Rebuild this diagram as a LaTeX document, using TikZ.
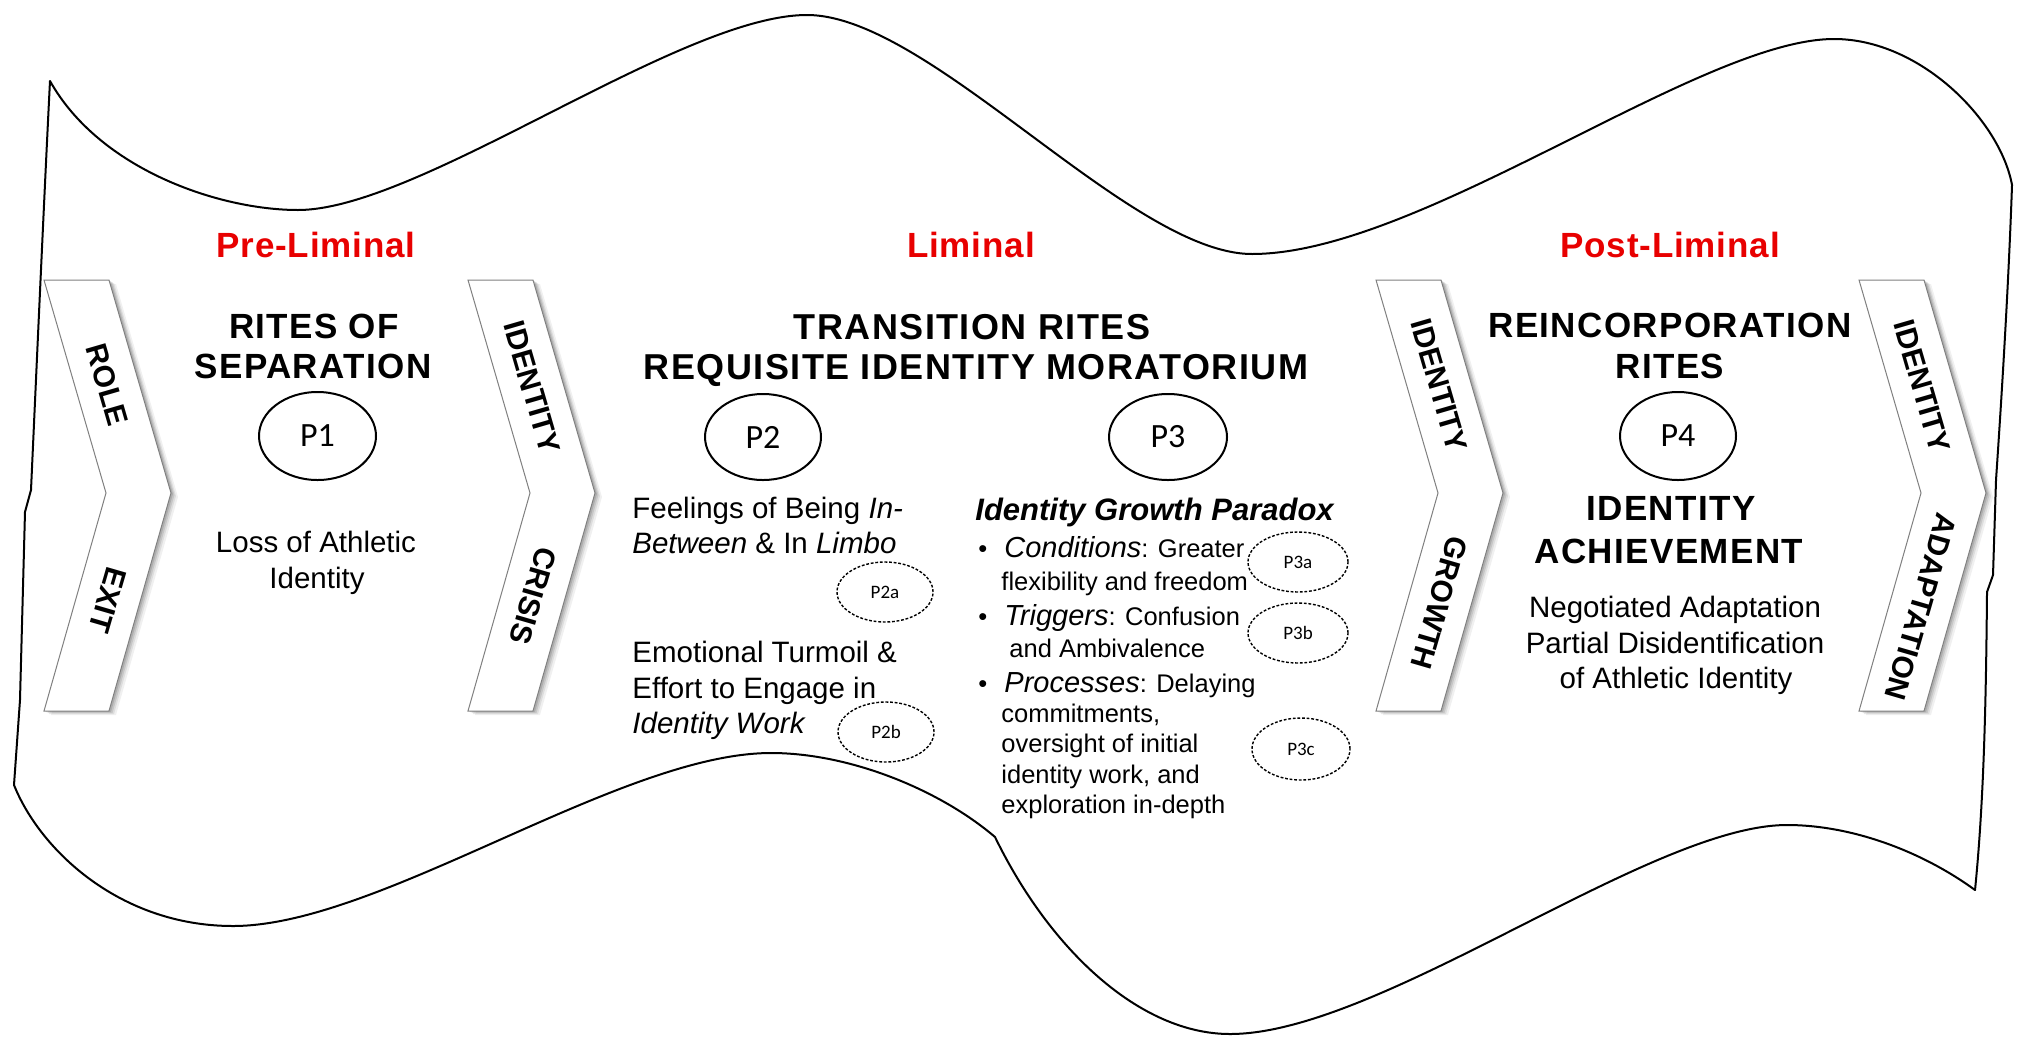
\documentclass[tikz,border=0pt]{standalone}
\usepackage{fontspec}
\setmainfont{Liberation Sans}
\newfontfamily\hdrfont[LetterSpace=4]{Liberation Sans}
\newfontfamily\redfont[LetterSpace=2.5]{Liberation Sans}
\newfontfamily\pfont{Carlito}
\usetikzlibrary{shapes.geometric}
\newlength\px \setlength\px{0.5pt}
\definecolor{redlab}{RGB}{232,0,0}
\definecolor{chevgray}{RGB}{128,128,128}
\newcommand\ith[1]{{\fontsize{14.5}{16}\selectfont\itshape #1}}
\newcommand\bul{\makebox[26\px][l]{•}}
\tikzset{
  redlabel/.style={font=\redfont\bfseries\fontsize{17.5}{20}\selectfont, text=redlab, inner sep=0pt, anchor=base},
  header/.style={font=\hdrfont\bfseries\fontsize{17.5}{20}\selectfont, inner sep=0pt, anchor=base},
  bigheader/.style={font=\hdrfont\bfseries\fontsize{18}{21}\selectfont, inner sep=0pt, anchor=base},
  body/.style={font=\fontsize{14.75}{18}\selectfont, inner sep=0pt, anchor=base},
  bodyleft/.style={font=\fontsize{14.75}{18}\selectfont, inner sep=0pt, anchor=base west},
  smallbody/.style={font=\fontsize{12.75}{16}\selectfont, inner sep=0pt, anchor=base west},
  chevtext/.style={font=\bfseries\fontsize{15}{18}\selectfont, inner sep=0pt},
  bigell/.style={ellipse, draw, line width=1pt, inner sep=0pt, font=\pfont\fontsize{17}{20}\selectfont},
  smallell/.style={ellipse, draw, line width=0.7pt, dash pattern=on 1.4pt off 0.9pt, inner sep=0pt,
     font=\pfont\fontsize{9.5}{11}\selectfont, minimum width=96\px, minimum height=60\px},
  outline/.style={line width=1pt, draw=black, line join=round},
  chevline/.style={draw=chevgray, line width=0.5pt, fill=white},
  chevron/.pic={
    \foreach \dx/\dy/\op in {7/4/0.06, 5/3/0.08, 3.5/2/0.10, 2/1/0.12}{
      \fill[black, opacity=\op] (\dx,280+\dy) -- (65+\dx,280+\dy) -- (127+\dx,493+\dy)
        -- (65+\dx,711+\dy) -- (\dx,711+\dy) -- (62+\dx,493+\dy) -- cycle;
    }
    \path[chevline] (0,280) -- (65,280) -- (127,493) -- (65,711) -- (0,711) -- (62,493) -- cycle;
  }
}
\begin{document}
\begin{tikzpicture}[x=0.5pt, y=-0.5pt]
\useasboundingbox (0,0) rectangle (2032,1050);
\fill[white] (0,0) rectangle (2032,1050);

% wavy outline
\draw[outline] (50,81) .. controls (100,170) and (220,210) .. (298,210)
  .. controls (420,210) and (680,15) .. (807,15)
  .. controls (930,15) and (1130,254) .. (1252,254)
  .. controls (1420,254) and (1700,39) .. (1834,39)
  .. controls (1920,39) and (2000,120) .. (2012,185)
  .. controls (2008,300) and (2000,420) .. (1996,480)
  -- (1993,575) -- (1987,592)
  .. controls (1986,700) and (1984,800) .. (1975,890)
  .. controls (1920,850) and (1850,825) .. (1787,825)
  .. controls (1650,825) and (1380,1034) .. (1230,1034)
  .. controls (1140,1034) and (1050,950) .. (995,837)
  .. controls (940,790) and (850,753) .. (771,753)
  .. controls (620,753) and (380,926) .. (233,926)
  .. controls (120,926) and (40,850) .. (14,785)
  -- (20,700) -- (25,512) -- (31,490)
  .. controls (36,380) and (44,200) .. (50,81) -- cycle;

% chevrons
\pic at (44,0) {chevron};
\pic at (468,0) {chevron};
\pic at (1376,0) {chevron};
\pic at (1859,0) {chevron};

\node[chevtext, rotate=-73.8] (role) at (107,385) {ROLE};
\node[chevtext, rotate=-106.2] (exit) at (108,600) {EXIT};
\node[chevtext, rotate=-73.8] (idcrisis) at (532,387) {IDENTITY};
\node[chevtext, rotate=-106.2] (crisis) at (533,596) {CRISIS};
\node[chevtext, rotate=-73.8] (idgrowth) at (1439,385) {IDENTITY};
\node[chevtext, rotate=-106.2] (growth) at (1439,603) {GROWTH};
\node[chevtext, rotate=-73.8] (idadapt) at (1922,386) {IDENTITY};
\node[chevtext, rotate=-106.2] (adapt) at (1921,607) {ADAPTATION};

% red phase labels
\node[redlabel] (prelim) at (316,257) {Pre-Liminal};
\node[redlabel] (lim) at (971,257) {Liminal};
\node[redlabel] (postlim) at (1670,257) {Post-Liminal};

% headers
\node[header] (sep1) at (314,338) {RITES OF};
\node[header] (sep2) at (313,378) {SEPARATION};
\node[bigheader] (tr1) at (972,339) {TRANSITION RITES};
\node[bigheader] (tr2) at (976,379) {REQUISITE IDENTITY MORATORIUM};
\node[header] (re1) at (1670,337) {REINCORPORATION};
\node[header] (re2) at (1670,378) {RITES};
\node[header] (ach1) at (1671,520) {IDENTITY};
\node[header] (ach2) at (1669,563) {ACHIEVEMENT};

% proposition ellipses
\node[bigell, minimum width=117\px, minimum height=88\px] (p1) at (317.5,436) {P1};
\node[bigell, minimum width=116\px, minimum height=86\px] (p2) at (763,437) {P2};
\node[bigell, minimum width=118\px, minimum height=86\px] (p3) at (1168,437) {P3};
\node[bigell, minimum width=116\px, minimum height=88\px] (p4) at (1678,436) {P4};

\node[smallell] (p2a) at (885,592) {P2a};
\node[smallell] (p2b) at (886,732) {P2b};
\node[smallell, minimum width=100\px] (p3a) at (1298,562) {P3a};
\node[smallell, minimum width=100\px] (p3b) at (1298,633) {P3b};
\node[smallell, minimum width=98\px, minimum height=62\px] (p3c) at (1301,749) {P3c};

% pre-liminal text
\node[body] (loss1) at (316,552) {Loss of Athletic};
\node[body] (loss2) at (317,588) {Identity};

% liminal P2 text
\node[bodyleft] (feel1) at (632,518) {Feelings of Being \textit{In-}};
\node[bodyleft] (feel2) at (632,553) {\textit{Between} \& In \textit{Limbo}};
\node[bodyleft] (emo1) at (632,662) {Emotional Turmoil \&};
\node[bodyleft] (emo2) at (632,698) {Effort to Engage in};
\node[bodyleft] (emo3) at (632,733) {\textit{Identity Work}};

% liminal P3 text
\node[bodyleft, font=\bfseries\itshape\fontsize{15.5}{18}\selectfont] (igp) at (975,520) {Identity Growth Paradox};
\node[smallbody] (cond1) at (978,557) {\bul\ith{Conditions}: Greater};
\node[smallbody] (cond2) at (1001,590) {flexibility and freedom};
\node[smallbody] (trig1) at (978,625) {\bul\ith{Triggers}: Confusion};
\node[smallbody] (trig2) at (1009,657) {and Ambivalence};
\node[smallbody] (proc1) at (978,692) {\bul\ith{Processes}: Delaying};
\node[smallbody] (proc2) at (1001,722) {commitments,};
\node[smallbody] (proc3) at (1001,752) {oversight of initial};
\node[smallbody] (proc4) at (1001,783) {identity work, and};
\node[smallbody] (proc5) at (1001,813) {exploration in-depth};

% post-liminal text
\node[body] (neg1) at (1675,617) {Negotiated Adaptation};
\node[body] (neg2) at (1675,653) {Partial Disidentification};
\node[body] (neg3) at (1676,688) {of Athletic Identity};
\end{tikzpicture}
\end{document}
